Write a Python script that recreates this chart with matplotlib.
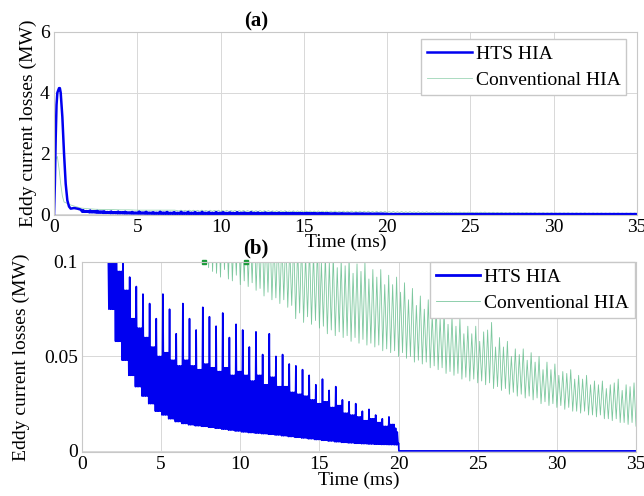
import numpy as np
import matplotlib
matplotlib.use('Agg')
import matplotlib.pyplot as plt

plt.rcParams['font.family'] = ['Liberation Serif', 'DejaVu Serif']

#--------------- data ---------------------------------------#
# HTS HIA, start-up transient (ms, MW)
hts_t0 = [0, 0.05, 0.1, 0.15, 0.2, 0.3, 0.35, 0.4, 0.5, 0.6, 0.7, 0.8, 0.9, 1.0, 1.2, 1.4, 1.6]
hts_v0 = [0, 1.0, 2.5, 3.6, 4.0, 4.15, 4.15, 4.0, 3.2, 2.0, 1.0, 0.45, 0.25, 0.18, 0.2, 0.18, 0.15]

# HTS HIA oscillating part: one entry per ripple period, starting at 1.7 ms
hts_period = 0.42
hts_peak = [0.13, 0.12, 0.105, 0.092, 0.087, 0.083, 0.078, 0.07, 0.083, 0.075,
            0.062, 0.078, 0.07, 0.064, 0.076, 0.071, 0.066, 0.073, 0.06, 0.067,
            0.064, 0.055, 0.063, 0.051, 0.062, 0.05, 0.051, 0.046, 0.045, 0.043,
            0.04, 0.035, 0.038, 0.032, 0.034, 0.027, 0.026, 0.025, 0.021, 0.022,
            0.019, 0.017, 0.018, 0.012]
hts_mid = [0.1, 0.095, 0.085, 0.07, 0.065, 0.06, 0.055, 0.05, 0.052, 0.048,
           0.045, 0.048, 0.045, 0.043, 0.046, 0.044, 0.042, 0.044, 0.04, 0.042,
           0.04, 0.037, 0.04, 0.035, 0.039, 0.034, 0.034, 0.031, 0.03, 0.029,
           0.027, 0.025, 0.026, 0.023, 0.024, 0.02, 0.019, 0.018, 0.016, 0.017,
           0.015, 0.013, 0.014, 0.01]
hts_low = [0.075, 0.058, 0.048, 0.04, 0.034, 0.029, 0.025, 0.021, 0.019, 0.017,
           0.0155, 0.0145, 0.0138, 0.0133, 0.013, 0.0125, 0.012, 0.0115, 0.011, 0.0105,
           0.01, 0.0097, 0.0094, 0.0091, 0.0088, 0.0084, 0.008, 0.0076, 0.0072, 0.0068,
           0.0064, 0.006, 0.0056, 0.0052, 0.0048, 0.0045, 0.0042, 0.004, 0.0038, 0.0036,
           0.0035, 0.0034, 0.0033, 0.0032]

# Conventional HIA, start-up transient
conv_t0 = [0, 0.05, 0.1, 0.2, 0.3, 0.4, 0.5, 0.6, 0.8, 1.0, 1.3, 1.6, 2.0, 2.5, 3.0,
           3.5, 4.0, 4.5, 5.0, 5.5, 6.0, 6.5, 7.0, 7.25]
conv_v0 = [0, 1.2, 1.8, 1.9, 1.5, 1.0, 0.6, 0.4, 0.35, 0.3, 0.25, 0.2, 0.18, 0.16, 0.15,
           0.15, 0.14, 0.14, 0.13, 0.13, 0.13, 0.13, 0.13, 0.13]

# Conventional HIA oscillating part: 4 periods per ms from 7.5 ms to 35 ms
conv_period = 0.25
conv_low = [0.104, 0.099, 0.097, 0.095, 0.094, 0.092, 0.096, 0.091,
            0.09, 0.093, 0.088, 0.09, 0.087, 0.089, 0.085, 0.086,
            0.082, 0.084, 0.08, 0.081, 0.078, 0.08, 0.076, 0.077,
            0.07, 0.073, 0.068, 0.071, 0.067, 0.069, 0.065, 0.066,
            0.062, 0.064, 0.061, 0.063, 0.06, 0.061, 0.058, 0.06,
            0.057, 0.059, 0.056, 0.057, 0.055, 0.056, 0.053, 0.054,
            0.052, 0.053, 0.05, 0.052, 0.049, 0.05, 0.047, 0.048,
            0.046, 0.047, 0.044, 0.045, 0.043, 0.044, 0.041, 0.042,
            0.04, 0.041, 0.038, 0.039, 0.037, 0.038, 0.036, 0.037,
            0.035, 0.036, 0.033, 0.034, 0.032, 0.033, 0.03, 0.031,
            0.029, 0.03, 0.028, 0.029, 0.027, 0.028, 0.025, 0.026,
            0.024, 0.025, 0.023, 0.024, 0.022, 0.023, 0.021, 0.021,
            0.02, 0.021, 0.019, 0.019, 0.018, 0.019, 0.017, 0.017,
            0.016, 0.017, 0.015, 0.015, 0.014, 0.015, 0.013]
conv_high = [0.13, 0.125, 0.13, 0.128, 0.125, 0.13, 0.122, 0.127,
             0.12, 0.126, 0.118, 0.123, 0.118, 0.122, 0.115, 0.12,
             0.115, 0.118, 0.112, 0.116, 0.112, 0.115, 0.108, 0.112,
             0.108, 0.111, 0.104, 0.108, 0.105, 0.108, 0.1, 0.104,
             0.1, 0.104, 0.097, 0.101, 0.098, 0.102, 0.094, 0.099,
             0.095, 0.1, 0.091, 0.096, 0.092, 0.096, 0.088, 0.093,
             0.088, 0.092, 0.084, 0.089, 0.08, 0.086, 0.077, 0.082,
             0.075, 0.08, 0.072, 0.077, 0.07, 0.074, 0.067, 0.071,
             0.066, 0.07, 0.062, 0.066, 0.062, 0.066, 0.058, 0.063,
             0.064, 0.068, 0.055, 0.06, 0.055, 0.058, 0.05, 0.054,
             0.051, 0.054, 0.048, 0.052, 0.047, 0.05, 0.043, 0.047,
             0.043, 0.046, 0.04, 0.042, 0.041, 0.043, 0.038, 0.04,
             0.038, 0.04, 0.035, 0.037, 0.035, 0.037, 0.033, 0.035,
             0.036, 0.038, 0.032, 0.035, 0.034, 0.036, 0.03]

# stray markers of the conventional trace at the top edge of (b)
dot_t = [7.7, 10.35]
dot_v = [0.1, 0.1]

#--------------- build traces -----------------#
ht, hv = list(hts_t0), list(hts_v0)
for i in range(len(hts_peak)):
    t0 = 1.7 + hts_period * i
    seq = [hts_low[i], hts_peak[i], hts_low[i], hts_mid[i],
           hts_low[i], hts_mid[i], hts_low[i], hts_mid[i]]
    for j, v in enumerate(seq):
        tt = t0 + j * hts_period / len(seq)
        if tt < 20.0:
            ht.append(tt)
            hv.append(v)
ht += [20.0, 20.02, 35.0]
hv += [0.004, 0.0, 0.0]

ct, cv = list(conv_t0), list(conv_v0)
for k in range(len(conv_low)):
    t0 = 7.5 + conv_period * k
    ct += [t0, t0 + conv_period / 2]
    cv += [conv_low[k], conv_high[k]]

blue = '#0000f0'
green = '#5cba86'

#--------------- writing plots -----------------#
fig = plt.figure(figsize=(6.44, 4.96), dpi=100)
ax1 = fig.add_axes([0.0839, 0.5665, 0.905, 0.369])
ax2 = fig.add_axes([0.1273, 0.0887, 0.8603, 0.3831])

for ax in (ax1, ax2):
    ax.grid(True, color='#d8d8d8', linewidth=0.7)
    ax.set_axisbelow(True)
    for s in ax.spines.values():
        s.set_color('#c8c8c8')
        s.set_linewidth(0.8)
    ax.tick_params(length=0, labelsize=14, pad=3)
    ax.set_xlim(0, 35)
    ax.set_xticks([0, 5, 10, 15, 20, 25, 30, 35])

# (a)
lc1, = ax1.plot(ct, cv, color=green, linewidth=0.6, alpha=0.6, label='Conventional HIA')
lh1, = ax1.plot(ht, hv, color=blue, linewidth=1.8, label='HTS HIA')
ax1.set_ylim(-0.03, 6)
ax1.set_yticks([0, 2, 4, 6])
ax1.set_ylabel('Eddy current losses (MW)', fontsize=14, labelpad=2)
ax1.set_xlabel('Time (ms)', fontsize=14, labelpad=-2)
ax1.set_title('(a)', fontsize=15, fontweight='bold', x=0.347, y=1.0, pad=4)
ax1.legend(handles=[lh1, lc1], loc='upper right', bbox_to_anchor=(0.982, 0.96),
           fontsize=14, fancybox=False, edgecolor='#c8c8c8', framealpha=1,
           handlelength=2.3, handletextpad=0.2, borderpad=0.3, labelspacing=0.45,
           borderaxespad=0)

# (b)
lc2, = ax2.plot(ct, cv, color=green, linewidth=0.6, alpha=0.8, label='Conventional HIA')
ax2.plot(dot_t, dot_v, linestyle='none', marker='s', markersize=2.5,
         color='#1a9a3a', clip_on=False)
lh2, = ax2.plot(ht, hv, color=blue, linewidth=1.2, label='HTS HIA')
ax2.set_ylim(-0.0006, 0.1)
ax2.set_yticks([0, 0.05, 0.1])
ax2.set_yticklabels(['0', '0.05', '0.1'])
ax2.set_ylabel('Eddy current losses (MW)', fontsize=14, labelpad=10)
ax2.set_xlabel('Time (ms)', fontsize=14, labelpad=-1)
ax2.set_title('(b)', fontsize=15, fontweight='bold', x=0.314, y=1.0, pad=6)
leg2 = ax2.legend(handles=[lh2, lc2], loc='upper right', bbox_to_anchor=(0.998, 0.998),
                  fontsize=14, fancybox=False, edgecolor='#c8c8c8', framealpha=1,
                  handlelength=2.3, handletextpad=0.2, borderpad=0.3, labelspacing=0.45,
                  borderaxespad=0)
leg2.get_lines()[0].set_linewidth(2.0)

fig.savefig('out.png', dpi=100)
